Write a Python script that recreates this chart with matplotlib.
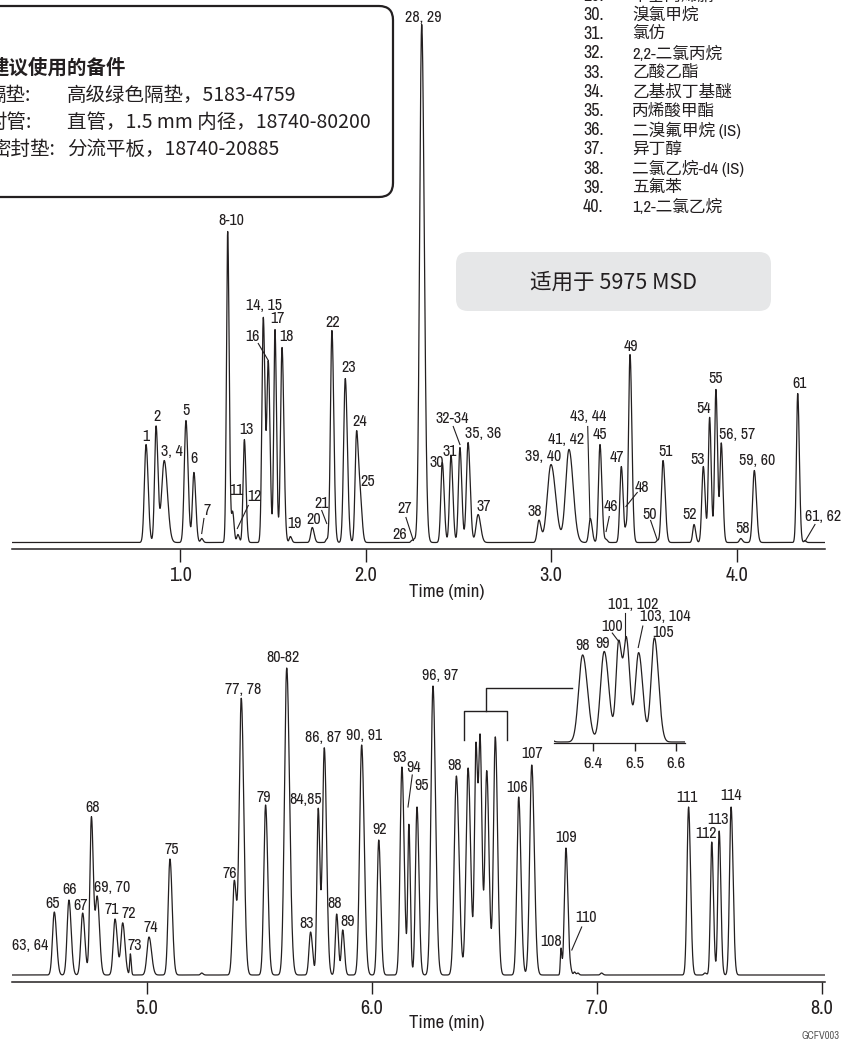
import numpy as np
import matplotlib.pyplot as plt
from matplotlib import font_manager
from matplotlib.patches import FancyBboxPatch
from matplotlib.transforms import IdentityTransform

# fuente estrecha disponible (el original usa una sans condensada)
fuentes = font_manager.fontManager.ttflist
estrecha = None
for f in fuentes:
    if ('Narrow' in f.name or 'Condensed' in f.name) and f.weight in (400, 'normal', 'regular') \
            and f.style == 'normal':
        estrecha = (f.name, 'normal')
        break
if estrecha is None:
    for f in fuentes:
        if f.stretch in ('condensed', 'semi-condensed') and f.style == 'normal':
            estrecha = (f.name, f.stretch)
            break
if estrecha is None:
    estrecha = ('Liberation Sans', 'normal')

plt.rcParams['font.family'] = [estrecha[0], 'Noto Sans CJK SC', 'DejaVu Sans']
plt.rcParams['font.stretch'] = estrecha[1]
ESCALA = 1.0 if estrecha[0] != 'Liberation Sans' else 0.88
CJK = ['Noto Sans CJK SC', 'DejaVu Sans']

INK = '#231F20'
W, H = 841, 1039

# ---- datos: picos (tiempo de retención, altura, sigma) ----
rt_top = [0.817, 0.871, 0.915, 1.032, 1.075, 1.117, 1.257, 1.284, 1.312, 1.347,
          1.449, 1.476, 1.512, 1.550, 1.595, 1.713, 1.790, 1.819, 1.891, 1.952,
          1.972, 2.249, 2.262, 2.303, 2.414, 2.461, 2.509, 2.553, 2.607, 2.935,
          3.000, 3.097, 3.212, 3.264, 3.297, 3.379, 3.404, 3.426, 3.573, 3.604,
          3.771, 3.821, 3.855, 3.889, 3.918, 4.023, 4.096, 4.330, 4.369]
h_top = [98, 116, 82, 122, 70, 4, 311, 30, 8, 103,
         225, 178, 213, 195, 6, 15, 3, 212, 164, 110,
         40, 2, 3, 518, 80, 87, 95, 100, 28, 22,
         78, 93, 24, 98, 3, 76, 10, 188, 2, 82,
         18, 76, 125, 153, 99, 4, 72, 149, 2]
w_top = [0.009, 0.008, 0.014, 0.009, 0.008, 0.006, 0.0065, 0.006, 0.006, 0.007,
         0.0075, 0.0075, 0.0065, 0.008, 0.006, 0.008, 0.005, 0.008, 0.009, 0.008,
         0.008, 0.005, 0.005, 0.011, 0.008, 0.008, 0.008, 0.009, 0.011, 0.009,
         0.020, 0.018, 0.008, 0.008, 0.006, 0.008, 0.004, 0.008, 0.005, 0.009,
         0.007, 0.008, 0.007, 0.007, 0.007, 0.007, 0.009, 0.007, 0.005]

rt_bot = [4.588, 4.653, 4.714, 4.753, 4.779, 4.858, 4.892, 4.926, 5.009, 5.102,
          5.243, 5.388, 5.419, 5.527, 5.621, 5.727, 5.761, 5.788, 5.843, 5.870,
          5.954, 6.030, 6.133, 6.164, 6.200, 6.271, 6.375, 6.427, 6.462, 6.481,
          6.510, 6.548, 6.652, 6.710, 6.840, 6.862, 6.884, 6.900, 6.915, 7.020,
          7.407, 7.480, 7.510, 7.543, 7.596]
h_bot = [63, 75, 62, 158, 77, 56, 52, 21, 38, 116,
         2, 94, 276, 170, 307, 43, 166, 227, 61, 45,
         230, 135, 208, 149, 168, 289, 199, 207, 228, 224,
         204, 238, 178, 210, 26, 127, 3, 3, 2, 2,
         168, 2, 133, 144, 168]
w_bot = [0.008, 0.008, 0.008, 0.007, 0.008, 0.008, 0.008, 0.003, 0.009, 0.008,
         0.005, 0.008, 0.009, 0.008, 0.010, 0.007, 0.006, 0.008, 0.006, 0.006,
         0.009, 0.007, 0.008, 0.005, 0.007, 0.009, 0.0095, 0.009, 0.0065, 0.0065,
         0.008, 0.008, 0.008, 0.009, 0.003, 0.007, 0.004, 0.004, 0.004, 0.005,
         0.007, 0.005, 0.006, 0.006, 0.007]

# ---- etiquetas de picos (texto, tiempo, altura) ----
lab_top = [("1", 0.817, 106), ("2", 0.874, 126), ("3, 4", 0.958, 91), ("5", 1.031, 132),
           ("6", 1.075, 84), ("7", 1.144, 32), ("8-10", 1.275, 322), ("11", 1.302, 52),
           ("12", 1.404, 46), ("13", 1.356, 113), ("14, 15", 1.453, 237), ("16", 1.390, 206),
           ("17", 1.527, 224), ("18", 1.575, 206), ("19", 1.616, 19), ("20", 1.719, 23),
           ("21", 1.764, 39), ("22", 1.826, 220), ("23", 1.907, 175), ("24", 1.970, 121),
           ("25", 2.012, 61), ("26", 2.186, 8), ("27", 2.213, 34), ("28, 29", 2.312, 525),
           ("30", 2.384, 80), ("31", 2.456, 91), ("32-34", 2.465, 124), ("35, 36", 2.635, 109),
           ("37", 2.635, 36), ("38", 2.914, 31), ("39, 40", 2.959, 86), ("41, 42", 3.081, 103),
           ("43, 44", 3.198, 126), ("45", 3.264, 108), ("46", 3.323, 36), ("47", 3.357, 85),
           ("48", 3.492, 55), ("49", 3.431, 196), ("50", 3.534, 28), ("51", 3.615, 91),
           ("52", 3.746, 28), ("53", 3.791, 83), ("54", 3.821, 134), ("55", 3.886, 164),
           ("56, 57", 4.006, 108), ("58", 4.031, 14), ("59, 60", 4.109, 82), ("61", 4.339, 159),
           ("61, 62", 4.468, 26)]
lead_top = [((1.129, 24), (1.117, 9)), ((1.368, 37), (1.309, 14)), ((1.422, 199), (1.476, 182)),
            ((1.764, 32), (1.791, 19)), ((2.218, 25), (2.258, 2)), ((2.473, 116), (2.509, 98)),
            ((3.198, 116), (3.210, 24)), ((3.314, 26), (3.297, 11)), ((3.465, 50), (3.404, 36)),
            ((3.537, 22), (3.572, 3)), ((4.423, 18), (4.369, 1))]

lab_bot = [("63, 64", 4.480, 29), ("65", 4.579, 72), ("66", 4.658, 86), ("67", 4.705, 70),
           ("68", 4.759, 168), ("69, 70", 4.846, 87), ("71", 4.843, 65), ("72", 4.921, 62),
           ("73", 4.944, 29), ("74", 5.018, 48), ("75", 5.110, 125), ("76", 5.369, 102),
           ("77, 78", 5.425, 285), ("79", 5.521, 178), ("80-82", 5.606, 317), ("83", 5.710, 52),
           ("84,85", 5.707, 176), ("86, 87", 5.784, 237), ("88", 5.836, 72), ("89", 5.892, 54),
           ("90, 91", 5.966, 240), ("92", 6.032, 146), ("93", 6.121, 218), ("94", 6.187, 207),
           ("95", 6.221, 189), ("96, 97", 6.302, 300), ("98", 6.369, 210), ("106", 6.646, 188),
           ("107", 6.712, 222), ("108", 6.794, 33), ("109", 6.861, 138), ("110", 6.950, 58),
           ("111", 7.399, 178), ("112", 7.483, 142), ("113", 7.536, 156), ("114", 7.596, 179)]
lead_bot = [((6.179, 200), (6.160, 168)), ((6.932, 48), (6.888, 25))]
bracket = [((6.409, 235), (6.409, 264), (6.600, 264), (6.600, 235)),
           ((6.507, 264), (6.507, 287), (6.889, 287))]

lab_in = [("98", 6.375, 221), ("99", 6.423, 224), ("100", 6.445, 265), ("101, 102", 6.497, 315),
          ("103, 104", 6.575, 286), ("105", 6.568, 250)]
lead_in = [((6.4465, 249), (6.461, 231)), ((6.477, 296), (6.477, 233)), ((6.520, 265), (6.509, 216))]

compuestos = ["甲基丙烯腈", "溴氯甲烷", "氯仿", "2,2-二氯丙烷", "乙酸乙酯", "乙基叔丁基醚",
              "丙烯酸甲酯", "二溴氟甲烷 (IS)", "异丁醇", "二氯乙烷-d4 (IS)", "五氟苯", "1,2-二氯乙烷"]
numeros = list(range(29, 41))

TAIL = 1.25


def senal(t, rt, h, w):
    y = np.zeros_like(t)
    for r, a, s in zip(rt, h, w):
        sd = np.where(t < r, s, s * TAIL)
        y += a * np.exp(-0.5 * ((t - r) / sd) ** 2)
    return y


def fx(px):
    return px / W


def fy(py):
    return 1 - py / H


def panel(rect, xlim, ylim, ticks, fs, tlen):
    ax = fig.add_axes(rect)
    ax.set_xlim(*xlim)
    ax.set_ylim(*ylim)
    ax.patch.set_alpha(0)
    for s in ['top', 'left', 'right']:
        ax.spines[s].set_visible(False)
    ax.spines['bottom'].set_color(INK)
    ax.spines['bottom'].set_linewidth(1.1)
    ax.set_yticks([])
    ax.set_xticks(ticks)
    ax.set_xticklabels([f"{v:.1f}" for v in ticks])
    ax.tick_params(axis='x', direction='out', length=tlen, width=1.0, color=INK,
                   labelsize=fs * ESCALA, labelcolor=INK, pad=3.5)
    return ax


def etiquetas(ax, labs, leads, fs=11.5):
    for txt, x, y in labs:
        ax.text(x, y, txt, ha='center', va='center', fontsize=fs * ESCALA, color=INK,
                clip_on=False)
    for (x0, y0), (x1, y1) in leads:
        ax.plot([x0, x1], [y0, y1], color=INK, lw=0.8, clip_on=False)


fig = plt.figure(figsize=(W / 100, H / 100), dpi=100)

# ---- panel superior ----
xl_top = (1 + (12 - 180) / 185.5, 1 + (825 - 180) / 185.5)
ax1 = panel([fx(12), fy(548.5), fx(825) - fx(12), 548.5 / H], xl_top, (-6, 542.5),
            [1.0, 2.0, 3.0, 4.0], 14.5, 9)
t1 = np.linspace(xl_top[0], xl_top[1], 8000)
ax1.plot(t1, senal(t1, rt_top, h_top, w_top), color=INK, lw=0.9)
etiquetas(ax1, lab_top, lead_top)
fig.text(fx(447), fy(592), "Time (min)", ha='center', va='center', fontsize=13.5 * ESCALA,
         color=INK)

# ---- panel inferior ----
xl_bot = (5 + (12 - 147) / 225, 5 + (825 - 147) / 225)
ax2 = panel([fx(12), fy(982), fx(825) - fx(12), 382 / H], xl_bot, (-7, 375),
            [5.0, 6.0, 7.0, 8.0], 14.5, 8.5)
t2 = np.linspace(xl_bot[0], xl_bot[1], 9000)
ax2.plot(t2, senal(t2, rt_bot, h_bot, w_bot), color=INK, lw=0.9)
etiquetas(ax2, lab_bot, lead_bot)
for seg in bracket:
    xs, ys = zip(*seg)
    ax2.plot(xs, ys, color=INK, lw=1.0, clip_on=False)
fig.text(fx(447), fy(1023), "Time (min)", ha='center', va='center', fontsize=13.5 * ESCALA,
         color=INK)
fig.text(fx(802), fy(1036), "GCFV003", ha='left', va='center', fontsize=7.5, color='#555555')

# ---- recuadro ampliado ----
xl_in = (6.4 + (554 - 593) / 415, 6.4 + (685 - 593) / 415)
ax3 = panel([fx(554), fy(743), fx(685) - fx(554), 113 / H], xl_in, (-2.3, 256),
            [6.4, 6.5, 6.6], 12, 6)
ax3.spines['bottom'].set_linewidth(0.9)
t3 = np.linspace(xl_in[0], xl_in[1], 2000)
ax3.plot(t3, senal(t3, rt_bot, h_bot, w_bot), color=INK, lw=0.9)
etiquetas(ax3, lab_in, lead_in)

# ---- cuadro de piezas recomendadas ----
caja = FancyBboxPatch((-20, H - 197), 413, 191, boxstyle='round,pad=0,rounding_size=14',
                      transform=IdentityTransform(), facecolor='white', edgecolor=INK, lw=1.6)
fig.add_artist(caja)
fig.text(fx(-10), fy(68), "建议使用的备件", ha='left', va='center', fontsize=14,
         fontweight='bold', color=INK, family=CJK)
filas = [("隔垫:", "高级绿色隔垫，5183-4759", -13, 95),
         ("衬管:", "直管，1.5 mm 内径，18740-80200", -13, 122),
         ("密封垫:", "分流平板，18740-20885", -9, 149)]
for k, v, x0, y0 in filas:
    fig.text(fx(x0), fy(y0), k, ha='left', va='center', fontsize=14, color=INK, family=CJK)
    fig.text(fx(67), fy(y0), v, ha='left', va='center', fontsize=14, color=INK, family=CJK)

# ---- lista de compuestos ----
for n, c in zip(numeros, compuestos):
    y = 15 + (n - 30) * 19.2
    fig.text(fx(583), fy(y), f"{n}.", ha='left', va='center', fontsize=13 * ESCALA, color=INK)
    fig.text(fx(632), fy(y), c, ha='left', va='center', fontsize=12, color=INK)

# ---- cuadro gris ----
gris = FancyBboxPatch((456, H - 311), 315, 59, boxstyle='round,pad=0,rounding_size=12',
                      transform=IdentityTransform(), facecolor='#E6E7E8', edgecolor='none')
fig.add_artist(gris)
fig.text(fx(613), fy(283), "适用于 5975 MSD", ha='center', va='center', fontsize=15.5,
         color=INK, family=CJK)

fig.savefig("out.png", dpi=100)
